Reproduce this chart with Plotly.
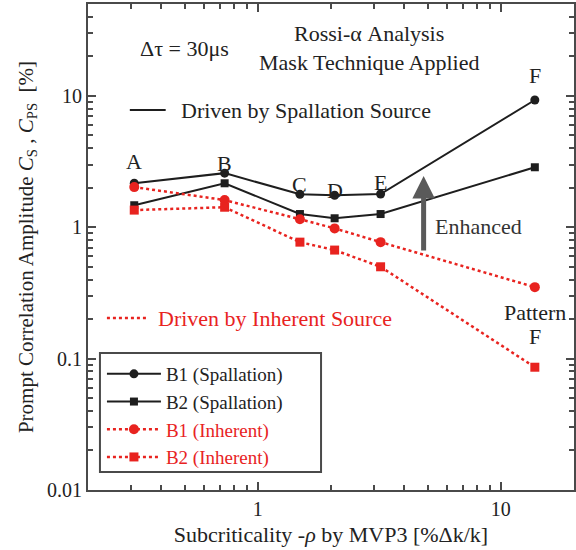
import math
import plotly.graph_objects as go

# ---- data ----
patterns = ["A", "B", "C", "D", "E", "F"]
rho = [0.31, 0.73, 1.49, 2.07, 3.2, 13.8]
b1_spallation = [2.16, 2.58, 1.78, 1.75, 1.79, 9.3]
b2_spallation = [1.47, 2.16, 1.26, 1.17, 1.26, 2.86]
b1_inherent = [2.02, 1.61, 1.15, 0.98, 0.77, 0.35]
b2_inherent = [1.35, 1.42, 0.77, 0.67, 0.50, 0.086]

x_major = [1, 10]
x_minor = [0.2, 0.3, 0.4, 0.5, 0.6, 0.7, 0.8, 0.9, 2, 3, 4, 5, 6, 7, 8, 9, 20]
y_major = [0.01, 0.1, 1, 10]
y_minor = [m * d for d in [0.01, 0.1, 1, 10] for m in range(2, 10) if m * d <= 50]

BLACK = "#1e1e1e"
RED = "#e8231f"
FRAME = "#4a4a4a"
FONT = "Liberation Serif"

fig = go.Figure()
fig.add_trace(go.Scatter(x=rho, y=b1_spallation, mode="lines+markers",
                         name="B1 (Spallation)",
                         line=dict(color=BLACK, width=2),
                         marker=dict(symbol="circle", size=9, color=BLACK)))
fig.add_trace(go.Scatter(x=rho, y=b2_spallation, mode="lines+markers",
                         name="B2 (Spallation)",
                         line=dict(color=BLACK, width=2),
                         marker=dict(symbol="square", size=8, color=BLACK)))
fig.add_trace(go.Scatter(x=rho, y=b1_inherent, mode="lines+markers",
                         name=f"<span style='color:{RED}'>B1 (Inherent)</span>",
                         line=dict(color=RED, width=2.5, dash="dot"),
                         marker=dict(symbol="circle", size=10, color=RED)))
fig.add_trace(go.Scatter(x=rho, y=b2_inherent, mode="lines+markers",
                         name=f"<span style='color:{RED}'>B2 (Inherent)</span>",
                         line=dict(color=RED, width=2.5, dash="dot"),
                         marker=dict(symbol="square", size=9, color=RED)))

# pattern letters above the B1 (Spallation) points
letter_shift = [22, 10, 10, 5, 12, 24]
for lab, xv, yv, s in zip(patterns, rho, b1_spallation, letter_shift):
    fig.add_annotation(x=math.log10(xv), y=math.log10(yv), xref="x", yref="y",
                       xanchor="center", yanchor="middle",
                       text=lab, showarrow=False, yshift=s,
                       font=dict(family=FONT, size=22, color="#222"))

# "Pattern F" below the inherent F points
fig.add_annotation(x=math.log10(rho[-1]), y=math.log10(b1_inherent[-1]), xref="x", yref="y",
                   xanchor="center", yanchor="middle",
                   text="Pattern", showarrow=False, yshift=-25,
                   font=dict(family=FONT, size=22, color="#222"))
fig.add_annotation(x=math.log10(rho[-1]), y=math.log10(b1_inherent[-1]), xref="x", yref="y",
                   xanchor="center", yanchor="middle",
                   text="F", showarrow=False, yshift=-49,
                   font=dict(family=FONT, size=22, color="#222"))


def px(xp):  # pixel -> paper x
    return (xp - 88) / 488


def py(yp):  # pixel -> paper y
    return (490 - yp) / 486


txt = dict(family=FONT, size=22, color="#222")


def note(xp, yp, text, anchor="center", font=txt):
    fig.add_annotation(x=px(xp), y=py(yp), xref="paper", yref="paper", text=text,
                       xanchor=anchor, yanchor="middle", showarrow=False, font=font)


note(185, 48, "Δτ = 30μs")
note(370, 33, "Rossi-α Analysis")
note(370, 62, "Mask Technique Applied")
note(179, 110, "Driven by Spallation Source", anchor="left")
note(156, 318, "Driven by Inherent Source", anchor="left",
     font=dict(family=FONT, size=22, color=RED))
note(480, 226, "Enhanced", font=dict(family=FONT, size=22, color="#333"))

# arrow "Enhanced"
fig.add_annotation(x=px(425), y=py(176), xref="paper", yref="paper",
                   ax=0, ay=76, axref="pixel", ayref="pixel",
                   text="", showarrow=True, arrowhead=2, arrowsize=0.9,
                   arrowwidth=5, arrowcolor="#5a5a5a", standoff=0)

# key line samples
fig.add_shape(type="line", xref="paper", yref="paper", x0=px(130), x1=px(166),
              y0=py(110), y1=py(110), line=dict(color=BLACK, width=2))
fig.add_shape(type="line", xref="paper", yref="paper", x0=px(107), x1=px(147),
              y0=py(318), y1=py(318), line=dict(color=RED, width=2.5, dash="dot"))

# legend frame (wider than plotly's automatic box, as in the reference)
fig.add_shape(type="rect", xref="paper", yref="paper", layer="below",
              x0=px(100), x1=px(322), y0=py(472), y1=py(353),
              line=dict(color=FRAME, width=2), fillcolor="white")

axis_common = dict(type="log", showline=True, linecolor=FRAME, linewidth=2, mirror="ticks",
                   ticks="inside", ticklen=8, tickwidth=1.5, tickcolor=FRAME,
                   showgrid=False, zeroline=False,
                   tickfont=dict(family=FONT, size=20, color="#222"))

fig.update_xaxes(**axis_common, range=[math.log10(0.2), math.log10(20)],
                 tickmode="array", tickvals=x_major, ticktext=[str(v) for v in x_major],
                 minor=dict(tickmode="array", tickvals=x_minor, ticks="inside", ticklen=5,
                            tickwidth=1.5, tickcolor=FRAME, showgrid=False),
                 title=dict(text="Subcriticality -<i>ρ</i> by MVP3 [%Δk/k]", standoff=8,
                            font=dict(family=FONT, size=22, color="#222")))
fig.update_yaxes(**axis_common, range=[-2, math.log10(50)],
                 tickmode="array", tickvals=y_major, ticktext=["0.01", "0.1", "1", "10"],
                 minor=dict(tickmode="array", tickvals=y_minor, ticks="inside", ticklen=5,
                            tickwidth=1.5, tickcolor=FRAME, showgrid=False),
                 title=dict(text="Prompt Correlation Amplitude <i>C</i><sub>S</sub> , <i>C</i><sub>PS</sub>  [%]",
                            standoff=8,
                            font=dict(family=FONT, size=21, color="#222")))

fig.update_layout(
    width=576, height=550,
    margin=dict(l=88, r=0, t=4, b=60),
    paper_bgcolor="white", plot_bgcolor="white",
    font=dict(family=FONT, color="#222"),
    legend=dict(x=px(102), y=py(355), xanchor="left", yanchor="top",
                bgcolor="rgba(0,0,0,0)", borderwidth=0,
                font=dict(family=FONT, size=19, color="#222"),
                itemwidth=54, tracegroupgap=0),
    showlegend=True,
)

fig.write_html("out.html")
